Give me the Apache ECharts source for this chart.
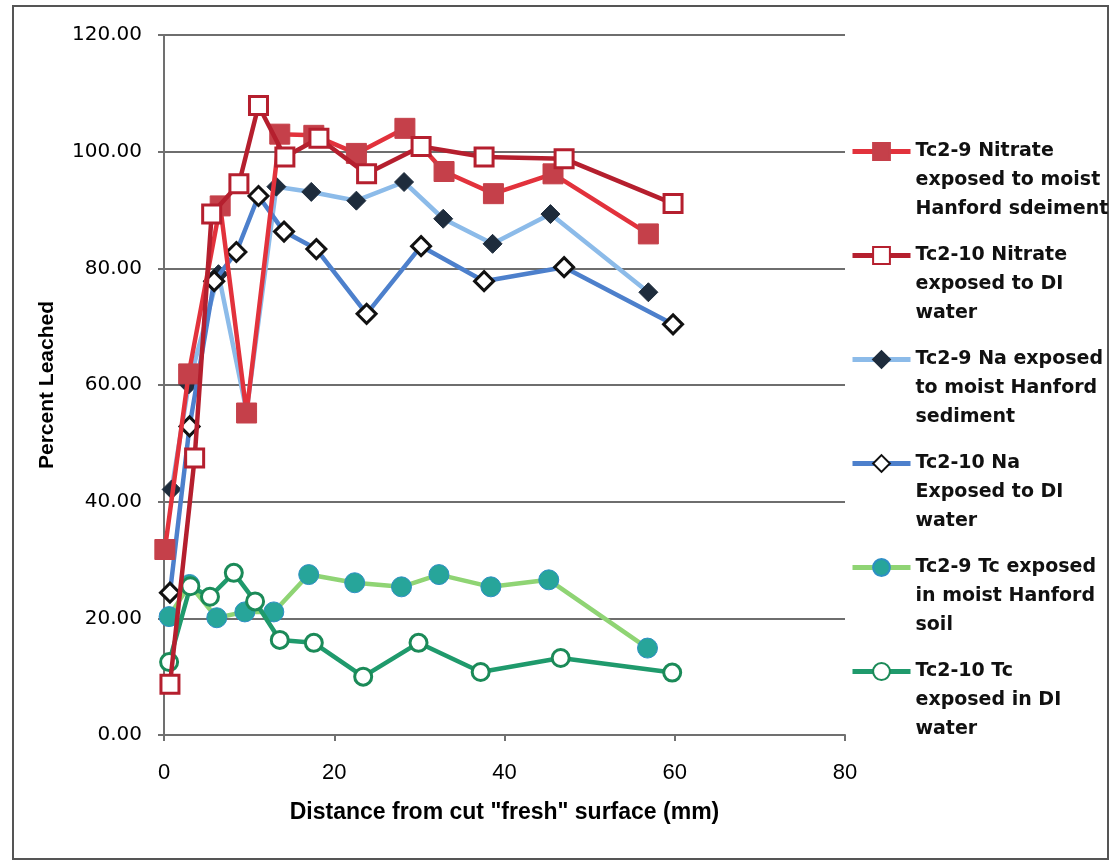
<!DOCTYPE html>
<html>
<head>
<meta charset="utf-8">
<script src="https://cdn.jsdelivr.net/npm/echarts@6/dist/echarts.min.js"></script>
<style>
html,body{margin:0;padding:0;background:#fff;}
#frame{position:absolute;left:12px;top:5px;width:1097px;height:855px;border:2px solid #555;box-sizing:border-box;}
#chart{position:absolute;left:0;top:0;width:1114px;height:865px;}
</style>
</head>
<body>
<div id="frame"></div>
<div id="chart"></div>
<script>
// Tc2-9 Nitrate exposed to moist Hanford sediment
var nit9X = [0.1, 2.9, 6.6, 9.7, 13.6, 17.6, 22.6, 28.3, 32.9, 38.7, 45.7, 56.9];
var nit9Y = [31.8, 61.9, 90.7, 55.2, 103.0, 102.8, 99.7, 104.0, 96.6, 92.8, 96.2, 85.9];
// Tc2-10 Nitrate exposed to DI water
var nit10X = [0.7, 3.6, 5.6, 8.8, 11.1, 14.2, 18.2, 23.8, 30.2, 37.6, 47.0, 59.8];
var nit10Y = [8.7, 47.5, 89.3, 94.5, 107.9, 99.1, 102.3, 96.2, 100.9, 99.1, 98.8, 91.1];
// Tc2-9 Na exposed to moist Hanford sediment
var na9X = [0.9, 2.9, 6.4, 9.7, 13.2, 17.3, 22.6, 28.2, 32.8, 38.6, 45.4, 56.9];
var na9Y = [42.1, 60.1, 79.0, 55.5, 94.0, 93.1, 91.6, 94.8, 88.5, 84.2, 89.3, 75.9];
// Tc2-10 Na exposed to DI water
var na10X = [0.7, 3.0, 5.9, 8.5, 11.1, 14.1, 17.9, 23.8, 30.2, 37.6, 47.0, 59.8];
var na10Y = [24.4, 52.9, 77.8, 82.8, 92.4, 86.3, 83.3, 72.2, 83.8, 77.8, 80.2, 70.4];
// Tc2-9 Tc exposed in moist Hanford soil
var tc9X = [0.6, 3.0, 6.2, 9.5, 12.9, 17.0, 22.4, 27.9, 32.3, 38.4, 45.2, 56.8];
var tc9Y = [20.3, 25.8, 20.1, 21.1, 21.1, 27.5, 26.1, 25.4, 27.5, 25.4, 26.6, 14.9];
// Tc2-10 Tc exposed in DI water
var tc10X = [0.6, 3.1, 5.4, 8.2, 10.7, 13.6, 17.6, 23.4, 29.9, 37.2, 46.6, 59.7];
var tc10Y = [12.5, 25.5, 23.7, 27.8, 22.9, 16.3, 15.8, 10.0, 15.8, 10.8, 13.2, 10.7];

var seriesNames = [
  'Tc2-9 Nitrate\nexposed to moist\nHanford sdeiment',
  'Tc2-10 Nitrate\nexposed to DI\nwater',
  'Tc2-9 Na exposed\nto moist Hanford\nsediment',
  'Tc2-10 Na\nExposed to DI\nwater',
  'Tc2-9 Tc exposed\nin moist Hanford\nsoil',
  'Tc2-10 Tc\nexposed in DI\nwater'
];
var xTicks = [0, 20, 40, 60, 80];
var yTicks = [0, 20, 40, 60, 80, 100, 120];

function pairs(xs, ys){ return xs.map(function(x,i){ return [x, ys[i]]; }); }

var chart = echarts.init(document.getElementById('chart'), null, {renderer:'canvas'});

function mk(name, xs, ys, lineColor, symbol, size, fill, border, bw, z){
  return {
    name: name, type: 'line', data: pairs(xs, ys),
    symbol: symbol, symbolSize: size, showAllSymbol: true, z: z,
    lineStyle: {color: lineColor, width: 4.5},
    itemStyle: {color: fill, borderColor: border, borderWidth: bw},
    emphasis: {disabled: true}, animation: false
  };
}

var option = {
  animation: false,
  grid: {left: 164, right: 269, top: 35, bottom: 130},
  xAxis: {
    type: 'value', min: 0, max: 80, interval: 20,
    name: 'Distance from cut "fresh" surface (mm)', nameLocation: 'middle', nameGap: 66,
    nameTextStyle: {fontFamily: 'Liberation Sans', fontWeight: 'bold', fontSize: 23, color: '#000'},
    axisLine: {lineStyle: {color: '#707070', width: 2}},
    axisTick: {show: true, length: 6, lineStyle: {color: '#707070', width: 2}},
    axisLabel: {fontFamily: 'Liberation Sans', fontSize: 22, color: '#000', margin: 27,
      formatter: function(v){ return xTicks.indexOf(v) >= 0 ? String(v) : ''; }},
    splitLine: {show: false}
  },
  yAxis: {
    type: 'value', min: 0, max: 120, interval: 20,
    name: 'Percent Leached', nameLocation: 'middle', nameGap: 106,
    nameTextStyle: {fontFamily: 'Liberation Sans', fontWeight: 'bold', fontSize: 21, color: '#000'},
    axisLine: {show: true, lineStyle: {color: '#707070', width: 2}},
    axisTick: {show: true, length: 6, lineStyle: {color: '#707070', width: 2}},
    axisLabel: {fontFamily: 'DejaVu Sans', fontSize: 20, color: '#000', margin: 22,
      formatter: function(v){ return yTicks.indexOf(v) >= 0 ? v.toFixed(2) : ''; }},
    splitLine: {show: true, lineStyle: {color: '#6e6e6e', width: 2}}
  },
  legend: {
    orient: 'vertical', left: 850, top: 79, padding: 0,
    itemWidth: 58, itemHeight: 21, itemGap: -41,
    data: seriesNames,
    lineStyle: {width: 5},
    formatter: function(n){ return '\n\n' + n; },
    textStyle: {fontFamily: 'DejaVu Sans', fontWeight: 'bold', fontSize: 19, color: '#111', lineHeight: 29}
  },
  series: [
    mk(seriesNames[4], tc9X, tc9Y, '#8fd474', 'circle', 20, '#27a59a', '#2d8fc4', 1, 2),
    mk(seriesNames[5], tc10X, tc10Y, '#1f9a6c', 'circle', 17, '#ffffff', '#1b8a58', 3, 3),
    mk(seriesNames[2], na9X, na9Y, '#8cbbe9', 'diamond', 19, '#1e2c3c', '#1e2c3c', 1, 4),
    mk(seriesNames[3], na10X, na10Y, '#4d80cc', 'diamond', 19, '#ffffff', '#111111', 3, 5),
    mk(seriesNames[0], nit9X, nit9Y, '#e2323c', 'rect', 20, '#c5404a', '#c5404a', 1, 6),
    mk(seriesNames[1], nit10X, nit10Y, '#b51f2e', 'rect', 18, '#ffffff', '#b51f2e', 3, 7)
  ]
};
chart.setOption(option);
</script>
</body>
</html>
